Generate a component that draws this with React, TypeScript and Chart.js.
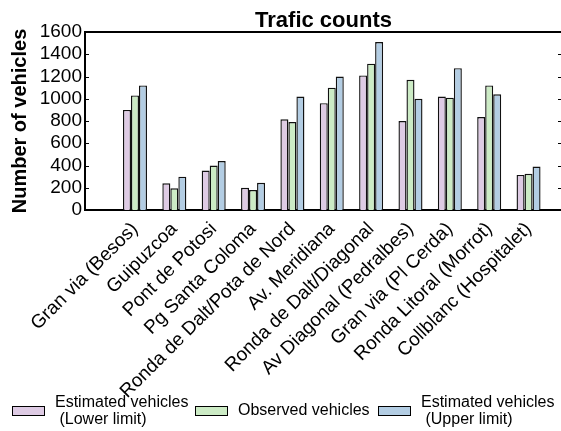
import React, { useEffect, useRef } from "react";
import { Chart, registerables } from "chart.js";

Chart.register(...registerables);

const categories = [
  "Gran via (Besos)",
  "Guipuzcoa",
  "Pont de Potosi",
  "Pg Santa Coloma",
  "Ronda de Dalt/Pota de Nord",
  "Av. Meridiana",
  "Ronda de Dalt/Diagonal",
  "Av Diagonal (Pedralbes)",
  "Gran via (Pl Cerda)",
  "Ronda Litoral (Morrot)",
  "Collblanc (Hospitalet)",
];

const lowerEstimate = [900, 240, 355, 200, 815, 960, 1210, 800, 1020, 835, 315];
const observed = [1030, 195, 400, 180, 790, 1100, 1315, 1170, 1010, 1120, 325];
const upperEstimate = [1120, 300, 440, 245, 1020, 1200, 1510, 1000, 1275, 1040, 390];

const yTicks = [0, 200, 400, 600, 800, 1000, 1200, 1400, 1600];

const seriesNames = [
  ["Estimated vehicles", " (Lower limit)"],
  ["Observed vehicles"],
  ["Estimated vehicles", " (Upper limit)"],
];
const seriesColors = ["#decbe4", "#ccebc5", "#b3cde3"];

const titleText = "Trafic counts";
const yTitle = "Number of vehicles";

const FONT = '"Liberation Sans", Arial, sans-serif';

const decorPlugin = {
  id: "decor",
  afterDraw(chart: any) {
    const { ctx, chartArea: a, scales } = chart;
    ctx.save();
    // frame top and right
    ctx.strokeStyle = "#000";
    ctx.lineWidth = 2;
    ctx.beginPath();
    ctx.moveTo(a.left - 1, a.top);
    ctx.lineTo(a.right, a.top);
    ctx.lineTo(a.right, a.bottom);
    ctx.stroke();
    // inward ticks
    ctx.lineWidth = 1;
    ctx.beginPath();
    yTicks.forEach((v) => {
      const y = Math.round(scales.y.getPixelForValue(v)) + 0.5;
      if (v === 0 || v === 1600) return;
      ctx.moveTo(a.left, y);
      ctx.lineTo(a.left + 4, y);
      ctx.moveTo(a.right, y);
      ctx.lineTo(a.right - 4, y);
    });
    ctx.stroke();
    // title
    ctx.fillStyle = "#000";
    ctx.font = "bold 22px " + FONT;
    ctx.textAlign = "center";
    ctx.textBaseline = "alphabetic";
    ctx.fillText(titleText, (a.left + a.right) / 2, 27);
    // legend
    const colW = 183;
    const startX = 12;
    const cy = chart.height - 20;
    ctx.font = "16px " + FONT;
    ctx.textAlign = "left";
    ctx.textBaseline = "middle";
    seriesNames.forEach((lines, i) => {
      const x = startX + i * colW;
      ctx.fillStyle = seriesColors[i];
      ctx.fillRect(x, cy - 4.5, 33, 9);
      ctx.strokeStyle = "#000";
      ctx.lineWidth = 1;
      ctx.strokeRect(x + 0.5, cy - 4.5, 32, 9);
      ctx.fillStyle = "#000";
      const lh = 17;
      const y0 = cy - ((lines.length - 1) * lh) / 2;
      lines.forEach((t, k) => ctx.fillText(t, x + 43, y0 + k * lh));
    });
    ctx.restore();
  },
};

export default function App() {
  const ref = useRef<HTMLCanvasElement>(null);
  useEffect(() => {
    if (!ref.current) return;
    Chart.defaults.font.family = FONT;
    const mk = (arr: number[]) => arr.map((v, i) => ({ x: i, y: v }));
    const chart = new Chart(ref.current, {
      type: "bar",
      data: {
        datasets: [lowerEstimate, observed, upperEstimate].map((arr, i) => ({
          label: seriesNames[i].join(""),
          data: mk(arr),
          backgroundColor: seriesColors[i],
          borderColor: "#111",
          borderWidth: 1.4,
          categoryPercentage: 0.61,
          barPercentage: 1,
        })),
      },
      options: {
        responsive: false,
        animation: false,
        layout: { padding: { top: 32, left: 0, right: 10, bottom: 0 } },
        plugins: { legend: { display: false }, tooltip: { enabled: false }, title: { display: false } },
        scales: {
          x: {
            type: "linear",
            offset: false,
            min: -1.27,
            max: 10.85,
            afterFit: (s: any) => {
              s.height = 221;
            },
            afterBuildTicks: (s: any) => {
              s.ticks = categories.map((_, i) => ({ value: i }));
            },
            grid: { display: false, drawTicks: false, offset: false },
            border: { display: true, color: "#000", width: 2 },
            ticks: {
              autoSkip: false,
              maxRotation: 45,
              minRotation: 45,
              padding: 8,
              color: "#000",
              font: { size: 19, family: FONT },
              callback: (v: any) => categories[v as number] ?? "",
            },
          },
          y: {
            min: 0,
            max: 1600,
            afterFit: (s: any) => {
              s.width = 85;
            },
            afterBuildTicks: (s: any) => {
              s.ticks = yTicks.map((v) => ({ value: v }));
            },
            grid: { display: false, drawTicks: false },
            border: { display: true, color: "#000", width: 2 },
            title: {
              display: true,
              text: yTitle,
              color: "#000",
              font: { size: 20, weight: "bold", family: FONT },
              padding: { top: 8, bottom: 0 },
            },
            ticks: {
              autoSkip: false,
              padding: 3,
              color: "#000",
              font: { size: 19, family: FONT },
              callback: (v: any) => String(v),
            },
          },
        },
      },
      plugins: [decorPlugin],
    });
    return () => chart.destroy();
  }, []);
  return (
    <div style={{ position: "absolute", left: 0, top: 0, width: 561, height: 431, overflow: "hidden", background: "#fff" }}>
      <canvas ref={ref} width={572} height={431} style={{ width: 572, height: 431, display: "block" }} />
    </div>
  );
}
